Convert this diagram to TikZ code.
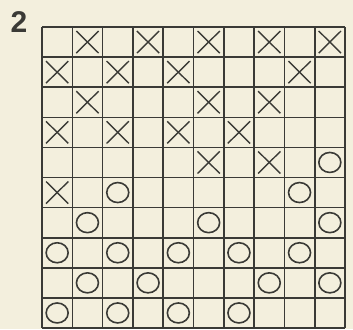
\documentclass[tikz,border=0pt]{standalone}
\usepackage{fontspec}
\setmainfont{Liberation Sans}
\definecolor{paper}{HTML}{F3EFDD}
\definecolor{ink}{HTML}{3A3A36}
\begin{document}
\begin{tikzpicture}[x=1pt,y=-1pt,
  gridline/.style={ink, line width=1.6pt},
  xmark/.style={ink, line width=1.4pt},
  omark/.style={ink, line width=1.6pt},
  numlabel/.style={ink, font=\fontsize{30}{30}\selectfont\bfseries, inner sep=0pt}]
\fill[paper] (0,0) rectangle (353,329);
\useasboundingbox (0,0) rectangle (353,329);
\def\xo{42}\def\dx{30.3}\def\yo{27}\def\dy{30.1}
% grid
\foreach \i in {0,...,10}{
  \draw[gridline] (\xo+\i*\dx,\yo) -- (\xo+\i*\dx,\yo+10*\dy);
  \draw[gridline] (\xo,\yo+\i*\dy) -- (\xo+10*\dx,\yo+\i*\dy);
}
% X marks: col/row
\foreach \c/\r in {2/1,4/1,6/1,8/1,10/1,
                   1/2,3/2,5/2,9/2,
                   2/3,6/3,8/3,
                   1/4,3/4,5/4,7/4,
                   6/5,8/5,
                   1/6}{
  \draw[xmark] (\xo+\c*\dx-\dx+4,\yo+\r*\dy-\dy+4) -- (\xo+\c*\dx-4,\yo+\r*\dy-4);
  \draw[xmark] (\xo+\c*\dx-4,\yo+\r*\dy-\dy+4) -- (\xo+\c*\dx-\dx+4,\yo+\r*\dy-4);
}
% O marks
\foreach \c/\r in {10/5,
                   3/6,9/6,
                   2/7,6/7,10/7,
                   1/8,3/8,5/8,7/8,9/8,
                   2/9,4/9,8/9,10/9,
                   1/10,3/10,5/10,7/10}{
  \draw[omark] (\xo+\c*\dx-0.5*\dx,\yo+\r*\dy-0.5*\dy) ellipse [x radius=11, y radius=10];
}
\node[numlabel] (lbl) at (19,22) {2};
\end{tikzpicture}
\end{document}
